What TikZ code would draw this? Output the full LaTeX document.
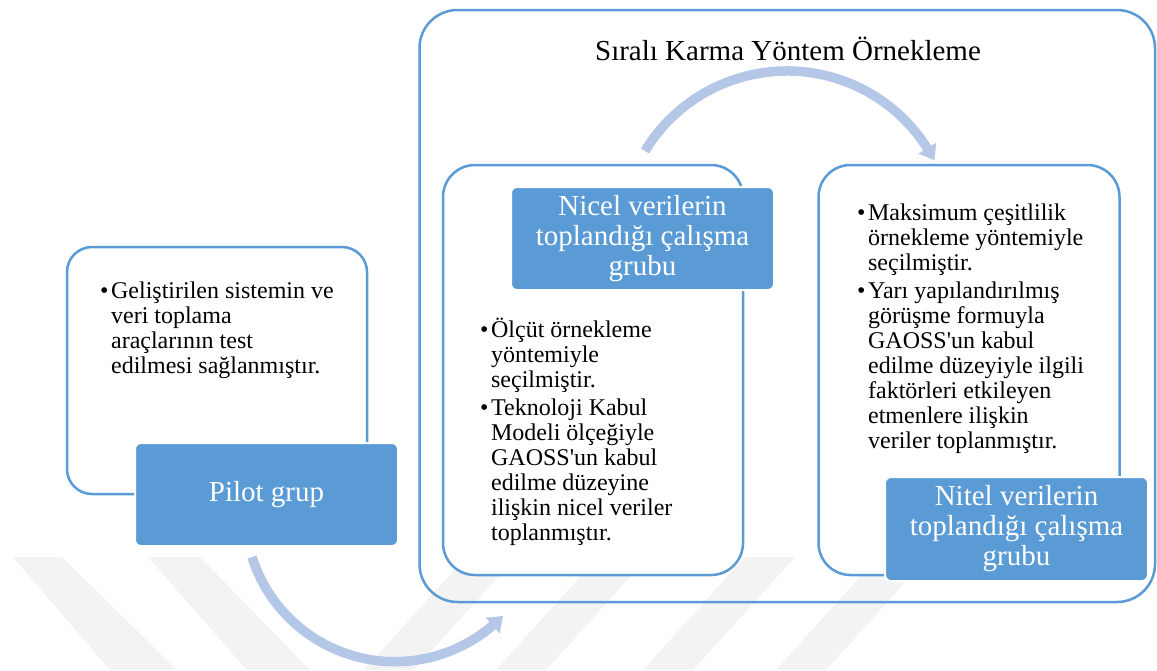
\documentclass[tikz,border=0pt]{standalone}
\usepackage{fontspec}
\setmainfont{Liberation Serif}
\usetikzlibrary{arrows.meta,bending}
\definecolor{boxblue}{RGB}{91,155,213}
\definecolor{arrowblue}{RGB}{180,199,231}
\definecolor{wmgray}{RGB}{243,243,243}
\begin{document}
\begin{tikzpicture}[x=1pt,y=1pt,
  outlinebox/.style={draw=boxblue, line width=2.5pt, rectangle, inner sep=0pt},
  filledbox/.style={draw=white, line width=2pt, fill=boxblue, rectangle, rounded corners=6pt,
    inner sep=0pt, minimum width=263pt, minimum height=103pt, text=white, align=center,
    font=\fontsize{29}{30}\selectfont},
  bullettext/.style={anchor=base west, inner sep=0pt, font=\fontsize{24}{25}\selectfont},
  bigarrow/.style={draw=arrowblue, line width=9.5pt, -{Triangle[length=14pt,width=20pt,bend]}},
  wmstripe/.style={fill=wmgray}
]
\useasboundingbox (0,0) rectangle (1157,-670);
\fill[white] (0,0) rectangle (1157,-670);

% watermark stripes
\fill[wmstripe] (13,-557) -- (62,-557) -- (177,-670) -- (110,-670) -- cycle;
\fill[wmstripe] (148,-557) -- (200,-557) -- (310,-670) -- (247,-670) -- cycle;
\fill[wmstripe] (466,-557) -- (516,-557) -- (414,-670) -- (364,-670) -- cycle;
\fill[wmstripe] (598,-557) -- (648,-557) -- (546,-670) -- (496,-670) -- cycle;
\fill[wmstripe] (745,-557) -- (795,-557) -- (693,-670) -- (643,-670) -- cycle;
\fill[wmstripe] (878,-557) -- (928,-557) -- (826,-670) -- (776,-670) -- cycle;

% outer box
\node[outlinebox, rounded corners=38pt, minimum width=735.5pt, minimum height=592pt] (outer) at (787.25,-306) {};
\node[anchor=base, inner sep=0pt, font=\fontsize{29}{30}\selectfont] (title) at (788,-60) {Sıralı Karma Yöntem Örnekleme};

% top arc arrow
\coordinate (topstart) at (645,-151);
\draw[bigarrow] (topstart) arc[start angle=148.8, end angle=27.5, radius=166];

% Nicel
\node[outlinebox, fill=white, rounded corners=32pt, minimum width=300pt, minimum height=410pt] (nicelout) at (593,-370) {};
\node[filledbox] (nicel) at (642.5,-238.5) {Nicel verilerin\\toplandığı çalışma\\grubu};
\node[bullettext] (niceltext) at (480,-337) {\begin{tabular}[t]{@{}l@{\hspace{2.5pt}}l@{}}
\textbullet & Ölçüt örnekleme\\
 & yöntemiyle\\
 & seçilmiştir.\\[3pt]
\textbullet & Teknoloji Kabul\\
 & Modeli ölçeğiyle\\
 & GAOSS\textquotesingle un kabul\\
 & edilme düzeyine\\
 & ilişkin nicel veriler\\
 & toplanmıştır.
\end{tabular}};

% Nitel
\node[outlinebox, fill=white, rounded corners=32pt, minimum width=301pt, minimum height=410pt] (nitelout) at (969,-370) {};
\node[bullettext] (niteltext) at (857,-220) {\begin{tabular}[t]{@{}l@{\hspace{2.5pt}}l@{}}
\textbullet & Maksimum çeşitlilik\\
 & örnekleme yöntemiyle\\
 & seçilmiştir.\\[3pt]
\textbullet & Yarı yapılandırılmış\\
 & görüşme formuyla\\
 & GAOSS\textquotesingle un kabul\\
 & edilme düzeyiyle ilgili\\
 & faktörleri etkileyen\\
 & etmenlere ilişkin\\
 & veriler toplanmıştır.
\end{tabular}};
\node[filledbox, minimum height=104pt] (nitel) at (1016.5,-529) {Nitel verilerin\\toplandığı çalışma\\grubu};

% Pilot
\node[outlinebox, fill=white, rounded corners=25pt, minimum width=300pt, minimum height=247pt] (pilotout) at (217,-370.5) {};
\node[bullettext] (pilottext) at (100,-298) {\begin{tabular}[t]{@{}l@{\hspace{2.5pt}}l@{}}
\textbullet & Geliştirilen sistemin ve\\
 & veri toplama\\
 & araçlarının test\\
 & edilmesi sağlanmıştır.
\end{tabular}};
\node[filledbox] (pilot) at (266.5,-494.5) {Pilot grup};

% bottom arc arrow
\coordinate (botstart) at (252,-557);
\draw[bigarrow] (botstart) arc[start angle=197.6, end angle=316, radius=150];
\end{tikzpicture}
\end{document}
